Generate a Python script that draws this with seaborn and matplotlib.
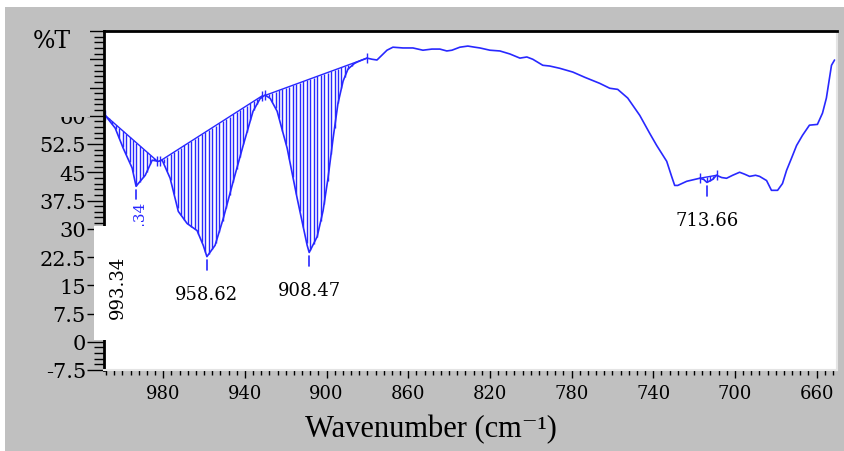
import numpy as np
import pandas as pd
import matplotlib
matplotlib.use("Agg")
import matplotlib.pyplot as plt
import seaborn as sns
from matplotlib.patches import Rectangle
from matplotlib.ticker import FixedLocator, MultipleLocator

# IR spectrum (wavenumber in cm-1, %T)
wavenumber = [1008.4, 1003.5, 999.6, 995.2, 993.3, 988.8, 985.4, 982.4, 980.5, 976.6,
              972.6, 968.3, 963.4, 960.4, 958.6, 954.6, 950.6, 945.7, 940.8, 936.0,
              932.5, 930.1, 927.6, 924.2, 919.3, 914.4, 909.5, 908.5, 904.6, 901.7,
              899.3, 896.8, 894.4, 891.9, 889.5, 886.1, 882.6, 880.2, 877.7, 875.3,
              873.8, 870.4, 867.5, 862.6, 857.7, 852.8, 848.4, 844.5, 841.1, 838.6,
              834.7, 830.8, 827.4, 824.9, 820.0, 815.1, 810.2, 805.3, 801.9, 799.0,
              794.1, 790.7, 785.8, 779.4, 773.5, 766.2, 761.3, 757.4, 752.5, 746.6,
              741.7, 738.3, 733.4, 731.0, 729.5, 728.0, 723.6, 717.3, 715.3, 713.7,
              710.9, 709.0, 706.5, 704.1, 701.1, 697.7, 695.3, 692.8, 689.9, 687.9,
              684.5, 682.1, 679.1, 676.7, 674.7, 672.3, 669.8, 666.9, 663.5, 659.6,
              657.1, 655.2, 652.7, 651.2]
transmittance = [60.1, 56.7, 51.4, 46.1, 41.3, 44.2, 48.2, 47.9, 48.2, 43.4,
                 34.6, 31.4, 29.5, 25.6, 22.6, 25.6, 32.7, 42.6, 52.2, 61.2,
                 64.6, 65.5, 64.6, 61.2, 51.4, 38.1, 25.6, 23.7, 27.9, 34.8,
                 43.4, 54.0, 63.3, 69.2, 72.4, 74.0, 74.8, 75.3, 75.0, 74.8,
                 75.6, 77.4, 78.2, 78.0, 78.0, 77.4, 77.7, 77.7, 77.2, 77.4,
                 78.2, 78.5, 78.2, 78.0, 77.4, 77.2, 76.4, 75.3, 75.6, 75.0,
                 73.4, 73.2, 72.6, 71.6, 70.2, 68.6, 67.3, 67.0, 64.7, 60.1,
                 55.3, 52.1, 47.9, 43.9, 41.5, 41.5, 42.6, 43.4, 43.1, 42.3,
                 43.1, 44.2, 43.6, 43.4, 44.2, 45.0, 44.5, 43.9, 44.2, 43.9,
                 42.8, 40.2, 40.2, 42.0, 45.5, 48.7, 52.1, 54.8, 57.5, 57.7,
                 60.7, 64.7, 73.4, 74.8]

# straight baselines of the integrated (hatched) regions
base_x0 = [1008.4, 981.5, 930.1, 717.3]
base_y0 = [60.1, 48.0, 65.4, 43.4]
base_x1 = [983.0, 931.5, 880.2, 709.0]
base_y1 = [48.0, 65.3, 75.3, 44.2]

# picked peaks
peak_pos = [993.34, 958.62, 908.47, 713.66]
peak_text = ['993.34', '958.62', '908.47', '713.66']

x_ticks = [980, 940, 900, 860, 820, 780, 740, 700, 660]
y_ticks = [-7.5, 0, 7.5, 15, 22.5, 30, 37.5, 45, 52.5, 60, 67.5, 75, 82.5]
y_tick_text = ['-7.5', '0', '7.5', '15', '22.5', '30', '37.5', '45', '52.5', '60', '', '', '']

BLUE = '#2828ff'
GRAY = '#c0c0c0'

sns.set_theme(style="white")
plt.rcParams['font.family'] = ['DejaVu Serif']
plt.rcParams['axes.unicode_minus'] = False

fig = plt.figure(figsize=(8.44, 4.52), dpi=100, facecolor=GRAY)
W, H = 844, 452
ax = fig.add_axes([104 / W, 1 - 371 / H, 733 / W, 339 / H])
ax.set_facecolor('white')

spec = pd.DataFrame({'wn': wavenumber, 't': transmittance})
sns.lineplot(data=spec, x='wn', y='t', sort=False, estimator=None,
             color=BLUE, lw=1.2, ax=ax)

# hatching between spectrum and baseline
wn_inc = np.array(wavenumber)[::-1]
t_inc = np.array(transmittance)[::-1]
for x0, y0, x1, y1 in zip(base_x0, base_y0, base_x1, base_y1):
    xs = np.arange(x0, x1, -1.7)
    yc = np.interp(xs, wn_inc, t_inc)
    yb = y0 + (xs - x0) * (y1 - y0) / (x1 - x0)
    ax.vlines(xs, yc, yb, color=BLUE, lw=1)
    ax.plot([x0, x1], [y0, y1], color=BLUE, lw=1)
    ax.plot([x0, x1], [y0, y1], ls='none', marker='|', ms=7, mew=1, color=BLUE)

# peak markers and labels
for pos, txt in zip(peak_pos, peak_text):
    ymin = np.interp(pos, wn_inc, t_inc)
    ax.plot([pos, pos], [ymin - 1.0, ymin - 3.6], color=BLUE, lw=1.2)
    if txt == '993.34':
        ax.annotate(txt, xy=(pos, ymin - 4.1), xytext=(3, 0), textcoords='offset points',
                    rotation=90, ha='center', va='top', color=BLUE, fontsize=11,
                    annotation_clip=False)
    else:
        ax.text(pos, ymin - 10, txt, ha='center', va='center', fontsize=13, color='black')

ax.set_xlim(1009, 650)
ax.set_ylim(-7.5, 82.5)
ax.set_xlabel('')
ax.set_ylabel('')

ax.xaxis.set_major_locator(FixedLocator(x_ticks))
ax.xaxis.set_minor_locator(MultipleLocator(4))
ax.set_xticklabels([str(v) for v in x_ticks])
ax.yaxis.set_major_locator(FixedLocator(y_ticks))
ax.yaxis.set_minor_locator(MultipleLocator(1.5))
ax.set_yticklabels(y_tick_text)

ax.tick_params(axis='both', which='both', direction='out', colors='black',
               bottom=True, left=True, top=False, right=False)
ax.tick_params(axis='y', which='major', length=12, width=1, labelsize=15, pad=1)
ax.tick_params(axis='y', which='minor', length=7, width=1)
ax.tick_params(axis='x', which='major', length=6, width=1, labelsize=13, pad=4)
ax.tick_params(axis='x', which='minor', length=3.5, width=1)

for side in ['top', 'left']:
    ax.spines[side].set_color('black')
    ax.spines[side].set_linewidth(2)
for side in ['bottom', 'right']:
    ax.spines[side].set_color('#e4e4e4')
    ax.spines[side].set_linewidth(1.5)

# window frame pieces
fig.add_artist(Rectangle((0, 1 - 8 / H), 1, 8 / H, transform=fig.transFigure,
                         facecolor='white', edgecolor='none', zorder=3))
fig.add_artist(Rectangle((0, 0), 5 / W, 1, transform=fig.transFigure,
                         facecolor='white', edgecolor='none', zorder=3))
# upper half of the "60" label is hidden in the original
fig.add_artist(Rectangle((20 / W, 1 - 118 / H), 70 / W, 108 / H, transform=fig.transFigure,
                         facecolor=GRAY, edgecolor='none', zorder=3))
# white label box over the axis
fig.add_artist(Rectangle((94 / W, 1 - 341 / H), 71 / W, 114 / H, transform=fig.transFigure,
                         facecolor='white', edgecolor='none', zorder=3))
fig.text(118 / W, 1 - 287 / H, peak_text[0], rotation=90, ha='center', va='center',
         fontsize=13, color='black', zorder=4)

fig.text(52 / W, 1 - 42 / H, '%T', ha='center', va='center', fontsize=17,
         color='black', zorder=4)
fig.text(431 / W, 1 - 430 / H, 'Wavenumber (cm⁻¹)', ha='center', va='center',
         fontsize=22, family=['Liberation Serif', 'DejaVu Serif'], color='black', zorder=4)

fig.savefig('out.png', dpi=100, facecolor=GRAY)
